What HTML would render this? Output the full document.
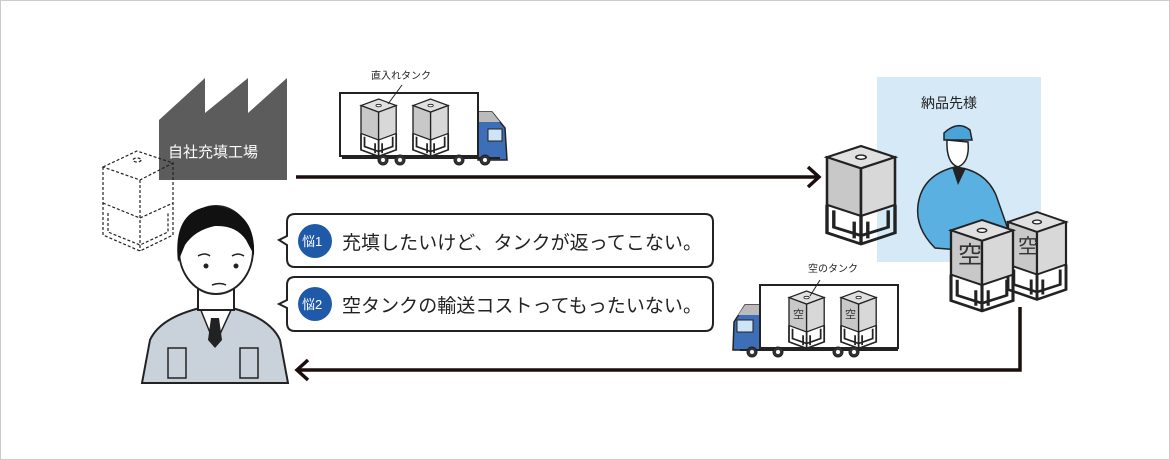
<!DOCTYPE html>
<html><head><meta charset="utf-8"><style>
html,body{margin:0;padding:0;background:#fff}
svg{display:block}
text{font-family:"Liberation Sans","Noto Sans CJK JP",sans-serif}
</style></head><body>
<svg width="1170" height="460" viewBox="0 0 1170 460" xmlns="http://www.w3.org/2000/svg">
<rect x="0.5" y="0.5" width="1169" height="459" fill="#fff" stroke="#ccc"/>
<defs>
<g id="tank">
 <polygon points="0,8 20,0 40,8 20,16" fill="#e0e0e0" stroke="#222" stroke-width="1.5"/>
 <polygon points="0,8 20,16 20,50 0,42" fill="#c8c8c8" stroke="#222" stroke-width="1.5"/>
 <polygon points="20,16 40,8 40,42 20,50" fill="#d8d8d8" stroke="#222" stroke-width="1.5"/>
 <ellipse cx="20" cy="8" rx="3" ry="1.5" fill="#fff" stroke="#222"/>
 <path d="M0,42 L0,62 L20,70 L40,62 L40,42 M20,50 L20,70 M4,46 L4,58 L20,64 L36,58 L36,46 M16,54 L16,66 M24,54 L24,66" fill="none" stroke="#222" stroke-width="2"/>
</g>
</defs>
<!-- factory -->
<polygon points="159,120 205,78 205,113 248,78 248,113 287,78 287,180 159,180" fill="#5c5c5c"/>
<text x="168" y="157" font-size="15" fill="#fff">自社充填工場</text>
<!-- dashed tank -->
<g fill="none" stroke="#222" stroke-width="1.2" stroke-dasharray="3,2">
 <polygon points="103,167 137,151 173,163 140,180"/>
 <path d="M103,167 L103,235 L140,251 L173,235 L173,163 M140,180 L140,251 M103,203 L140,218 L173,203"/>
 <path d="M108,213 L108,232 L140,245 L168,232 L168,213"/>
 <ellipse cx="137" cy="160" rx="4" ry="2"/>
</g>
<!-- top arrow -->
<line x1="296" y1="177" x2="818" y2="177" stroke="#1a0e0e" stroke-width="3.5"/>
<polyline points="808,167 819,177 808,187" fill="none" stroke="#1a0e0e" stroke-width="3.5"/>
<!-- truck 1 -->
<path d="M478,112 L492,112 L505,128 L507,160 L478,160 Z" fill="#3d6fb8" stroke="#222" stroke-width="1.5"/>
<path d="M478,112 L492,112 L500,122 L478,122Z" fill="#bbb"/>
<rect x="488" y="129" width="14" height="12" fill="#cfe4f5" stroke="#222"/>
<rect x="340" y="93" width="138" height="63" fill="#fff" stroke="#222" stroke-width="2"/>
<line x1="342" y1="158" x2="500" y2="158" stroke="#222" stroke-width="2"/>
<g fill="#333" stroke="#222"><circle cx="383" cy="160" r="5"/><circle cx="400" cy="160" r="5"/><circle cx="459" cy="160" r="5"/><circle cx="485" cy="160" r="5"/></g>
<g fill="#fff"><circle cx="383" cy="160" r="2"/><circle cx="400" cy="160" r="2"/><circle cx="459" cy="160" r="2"/><circle cx="485" cy="160" r="2"/></g>
<use href="#tank" transform="translate(361,99) scale(0.88,0.82)"/>
<use href="#tank" transform="translate(413,99) scale(0.88,0.82)"/>
<text x="371" y="79" font-size="10" fill="#222">直入れタンク</text>
<line x1="402" y1="85" x2="388" y2="104" stroke="#222"/>
<!-- customer area -->
<rect x="877" y="77" width="164" height="185" fill="#d6e9f7"/>
<text x="921" y="108" font-size="14" fill="#222">納品先様</text>
<!-- customer person -->
<path d="M944,133 Q958,120 970,130 L972,140 L944,140Z" fill="#4aa3d9" stroke="#222" stroke-width="1.5"/>
<path d="M947,140 Q946,163 958,167 Q970,162 968,142Z" fill="#fff" stroke="#222" stroke-width="1.5"/>
<path d="M918,205 Q922,175 955,167 Q985,170 996,195 L1010,235 L960,250 L935,248 Q915,228 918,205Z" fill="#5ab0e0" stroke="#222" stroke-width="1.5"/>
<path d="M952,167 L958,185 L966,168Z" fill="#222"/>
<!-- big tank -->
<use href="#tank" transform="translate(827,146) scale(1.7,1.4)"/>
<!-- empty tanks -->
<use href="#tank" transform="translate(1008,212) scale(1.45,1.25)"/>
<use href="#tank" transform="translate(951,220) scale(1.55,1.3)"/>
<text x="958" y="263" font-size="24" fill="#333">空</text>
<text x="1018" y="253" font-size="20" fill="#333">空</text>
<!-- bottom arrow -->
<polyline points="1020,307 1020,370 297,370" fill="none" stroke="#1a0e0e" stroke-width="3.5"/>
<polyline points="308,360 297,370 308,380" fill="none" stroke="#1a0e0e" stroke-width="3.5"/>
<!-- truck 2 -->
<path d="M760,305 L745,305 L734,322 L733,350 L760,350Z" fill="#3d6fb8" stroke="#222" stroke-width="1.5"/>
<path d="M760,305 L745,305 L738,315 L760,315Z" fill="#bbb"/>
<rect x="737" y="320" width="16" height="12" fill="#cfe4f5" stroke="#222"/>
<rect x="760" y="285" width="138" height="63" fill="#fff" stroke="#222" stroke-width="2"/>
<line x1="740" y1="350" x2="898" y2="350" stroke="#222" stroke-width="2"/>
<g fill="#333" stroke="#222"><circle cx="752" cy="352" r="5"/><circle cx="778" cy="352" r="5"/><circle cx="838" cy="352" r="5"/><circle cx="854" cy="352" r="5"/></g>
<g fill="#fff"><circle cx="752" cy="352" r="2"/><circle cx="778" cy="352" r="2"/><circle cx="838" cy="352" r="2"/><circle cx="854" cy="352" r="2"/></g>
<use href="#tank" transform="translate(789,291) scale(0.88,0.82)"/>
<use href="#tank" transform="translate(841,291) scale(0.88,0.82)"/>
<text x="793" y="318" font-size="11" fill="#333">空</text>
<text x="845" y="318" font-size="11" fill="#333">空</text>
<text x="808" y="272" font-size="10" fill="#222">空のタンク</text>
<line x1="820" y1="280" x2="810" y2="296" stroke="#222"/>
<!-- bubbles -->
<g fill="#fff" stroke="#222" stroke-width="2">
<path d="M295,214 L705,214 Q713,214 713,222 L713,259 Q713,267 705,267 L295,267 Q287,267 287,259 L287,245 L279,240 L287,236 L287,222 Q287,214 295,214Z"/>
<path d="M295,277 L705,277 Q713,277 713,285 L713,323 Q713,331 705,331 L295,331 Q287,331 287,323 L287,308 L279,304 L287,300 L287,285 Q287,277 295,277Z"/>
</g>
<circle cx="315" cy="241" r="17" fill="#1e5aa8"/>
<circle cx="315" cy="304" r="17" fill="#1e5aa8"/>
<text x="302" y="246" font-size="13" fill="#fff">悩1</text>
<text x="302" y="309" font-size="13" fill="#fff">悩2</text>
<text x="342" y="249" font-size="19" fill="#222" textLength="360">充填したいけど、タンクが返ってこない。</text>
<text x="342" y="312" font-size="19" fill="#222" textLength="360">空タンクの輸送コストってもったいない。</text>
<!-- worried man -->
<path d="M142,383 L150,340 Q160,318 200,308 L232,308 Q270,318 280,340 L288,383Z" fill="#c9d1da" stroke="#222" stroke-width="2"/>
<path d="M200,308 L215,345 L232,308Z" fill="#fff" stroke="#222" stroke-width="1.5"/>
<path d="M211,318 L219,318 L222,340 L215,348 L208,340Z" fill="#222"/>
<rect x="198" y="282" width="36" height="28" fill="#fff" stroke="#222" stroke-width="2"/>
<ellipse cx="216" cy="250" rx="37" ry="44" fill="#fff" stroke="#222" stroke-width="2"/>
<path d="M178,262 Q172,208 214,206 Q256,210 254,255 L246,240 Q236,225 215,226 Q195,230 185,245Z" fill="#111"/>
<circle cx="206" cy="266" r="2.5" fill="#222"/><circle cx="236" cy="266" r="2.5" fill="#222"/>
<path d="M198,256 Q205,252 210,256 M232,256 Q238,252 244,256 M212,285 Q220,282 226,285" fill="none" stroke="#222" stroke-width="1.5"/>
<path d="M168,348 L168,378 L186,378 L186,348Z M240,348 L240,378 L258,378 L258,348Z" fill="none" stroke="#222" stroke-width="1.5"/>
</svg>
</body></html>
